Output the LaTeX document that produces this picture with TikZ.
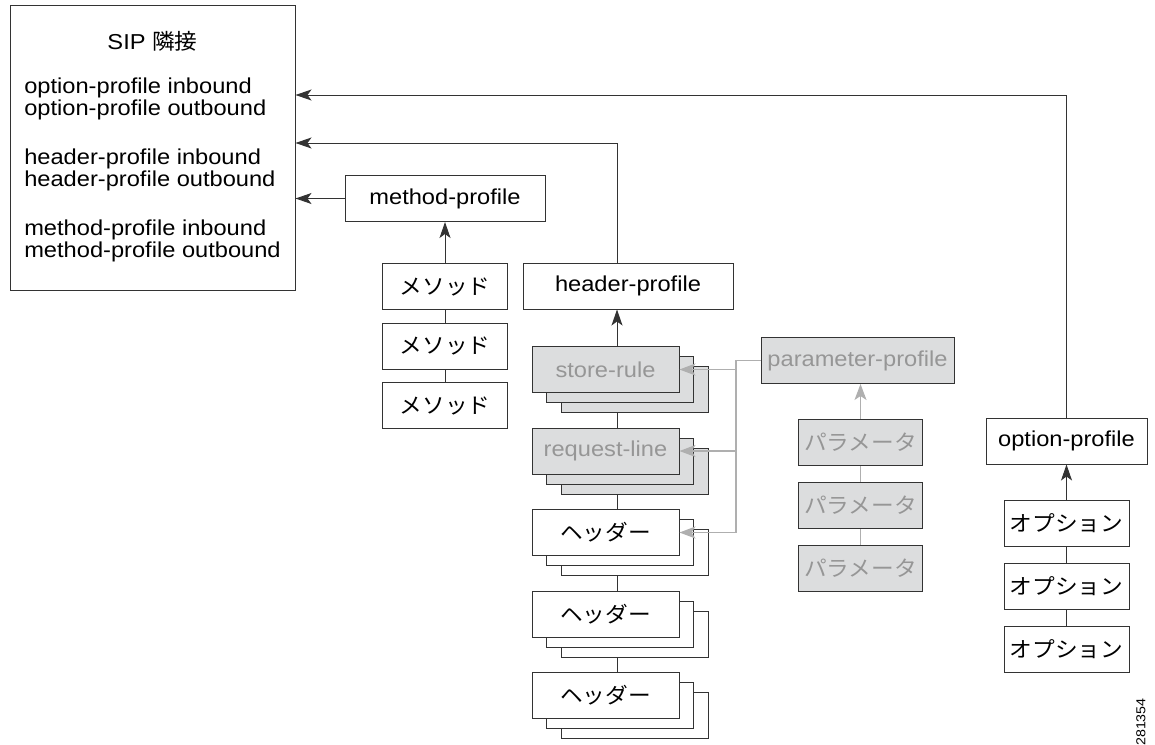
\documentclass[tikz,border=0pt]{standalone}
\usepackage{fontspec}
\setmainfont{Liberation Sans}[FakeStretch=1.095]
\newfontfamily\jp{Noto Sans CJK JP}[FakeStretch=1.05]
\usetikzlibrary{arrows.meta,positioning,shadows}
\definecolor{boxgray}{RGB}{220,221,222}
\definecolor{dimtext}{RGB}{150,150,150}
\definecolor{dimline}{RGB}{175,175,175}
\tikzset{
  box/.style={rectangle, draw=black!80, line width=0.5pt, fill=white,
    align=center, inner sep=2pt, minimum height=23pt,
    font=\fontsize{10.8}{10.75}\selectfont},
  dim/.style={fill=boxgray, text=dimtext},
  layered/.style={copy shadow={shadow xshift=14.5pt, shadow yshift=-10pt, #1},
    copy shadow={shadow xshift=7.25pt, shadow yshift=-5pt, #1}},
  flow/.style={-{Stealth[length=8pt,width=5.5pt,inset=2pt]}, draw=black!80, line width=0.5pt},
  link/.style={draw=black!80, line width=0.5pt},
  dimflow/.style={-{Stealth[length=8pt,width=6pt,inset=2pt]}, draw=dimline, line width=0.6pt},
  dimlink/.style={draw=dimline, line width=0.6pt},
}
\begin{document}
\begin{tikzpicture}[x=0.5pt, y=-0.5pt]
  \useasboundingbox (0,0) rectangle (1155,744);

  % adjacency box
  \node[box, minimum width=142.5pt, minimum height=142.5pt] (sip) at (152.5,147.5)
    {\begin{tabular}{@{}l@{}}
     \multicolumn{1}{@{}c@{}}{SIP {\jp 隣接}}\\[11.25pt]
     option-profile inbound\\option-profile outbound\\[13.25pt]
     header-profile inbound\\header-profile outbound\\[13.25pt]
     method-profile inbound\\method-profile outbound
     \end{tabular}};

  % method-profile
  \node[box, minimum width=100pt] (mprof) at (445,198.5) {method-profile};
  \node[box, minimum width=62.5pt, below=20.5pt of mprof] (meth1) {{\jp メソッド}};
  \node[box, minimum width=62.5pt, below=6.25pt of meth1] (meth2) {{\jp メソッド}};
  \node[box, minimum width=62.5pt, below=6.25pt of meth2] (meth3) {{\jp メソッド}};

  % header-profile
  \node[box, minimum width=105pt] (hprof) at (628,286) {header-profile};
  \node[box, dim, minimum width=73.5pt, layered={fill=boxgray, draw=black!80}] (store) at (605.5,369.5) {store-rule};
  \node[box, dim, minimum width=73.5pt, layered={fill=boxgray, draw=black!80}, below=17.25pt of store] (reqline) {request-line};
  \node[box, minimum width=73.5pt, layered={fill=white, draw=black!80}, below=17.25pt of reqline] (hdr1) {{\jp ヘッダー}};
  \node[box, minimum width=73.5pt, layered={fill=white, draw=black!80}, below=17.25pt of hdr1] (hdr2) {{\jp ヘッダー}};
  \node[box, minimum width=73.5pt, layered={fill=white, draw=black!80}, below=17.25pt of hdr2] (hdr3) {{\jp ヘッダー}};

  % parameter-profile
  \node[box, dim, minimum width=96.5pt] (pprof) at (857.5,360.5) {parameter-profile};
  \node[box, dim, minimum width=62pt] (param1) at (860.5,442.5) {{\jp パラメータ}};
  \node[box, dim, minimum width=62pt, below=8pt of param1] (param2) {{\jp パラメータ}};
  \node[box, dim, minimum width=62pt, below=8pt of param2] (param3) {{\jp パラメータ}};

  % option-profile
  \node[box, minimum width=80.5pt] (oprof) at (1066.5,441) {option-profile};
  \node[box, minimum width=62.5pt, below=17.5pt of oprof] (opt1) {{\jp オプション}};
  \node[box, minimum width=62.5pt, below=8pt of opt1] (opt2) {{\jp オプション}};
  \node[box, minimum width=62.5pt, below=8pt of opt2] (opt3) {{\jp オプション}};

  \node[rotate=90, font=\fontsize{6.5}{7}\selectfont] (fignum) at (1141,722) {281354};

  \coordinate (optTurn) at (1066.5,95);
  \coordinate (hdrTurn) at (617,143);
  \coordinate (trunk) at (736,356);

  % profiles to adjacency
  \draw[flow] (oprof.north) |- (sip.east |- optTurn);
  \draw[flow] (hprof.north -| hdrTurn) |- (sip.east |- hdrTurn);
  \draw[flow] (mprof.west) -- (mprof.west -| sip.east);

  % methods
  \draw[flow] (meth1) -- (mprof);
  \draw[link] (meth1) -- (meth2);
  \draw[link] (meth2) -- (meth3);

  % header rules
  \draw[flow] (store.north -| hdrTurn) -- (hprof.south -| hdrTurn);
  \draw[link] (reqline.north -| hdrTurn) -- ++(0pt,7.25pt);
  \draw[link] (hdr1.north -| hdrTurn) -- ++(0pt,7.25pt);
  \draw[link] (hdr2.north -| hdrTurn) -- ++(0pt,7.25pt);
  \draw[link] (hdr3.north -| hdrTurn) -- ++(0pt,7.25pt);

  % parameters
  \draw[dimflow] (param1.north) -- (param1.north |- pprof.south);
  \draw[dimlink] (param1) -- (param2);
  \draw[dimlink] (param2) -- (param3);
  \draw[dimlink] (pprof.west) -| (trunk |- hdr1.east);
  \draw[dimflow] (trunk |- store.east) -- (store.east);
  \draw[dimflow] (trunk |- reqline.east) -- (reqline.east);
  \draw[dimflow] (trunk |- hdr1.east) -- (hdr1.east);

  % options
  \draw[flow] (opt1) -- (oprof);
  \draw[link] (opt1) -- (opt2);
  \draw[link] (opt2) -- (opt3);
\end{tikzpicture}
\end{document}
